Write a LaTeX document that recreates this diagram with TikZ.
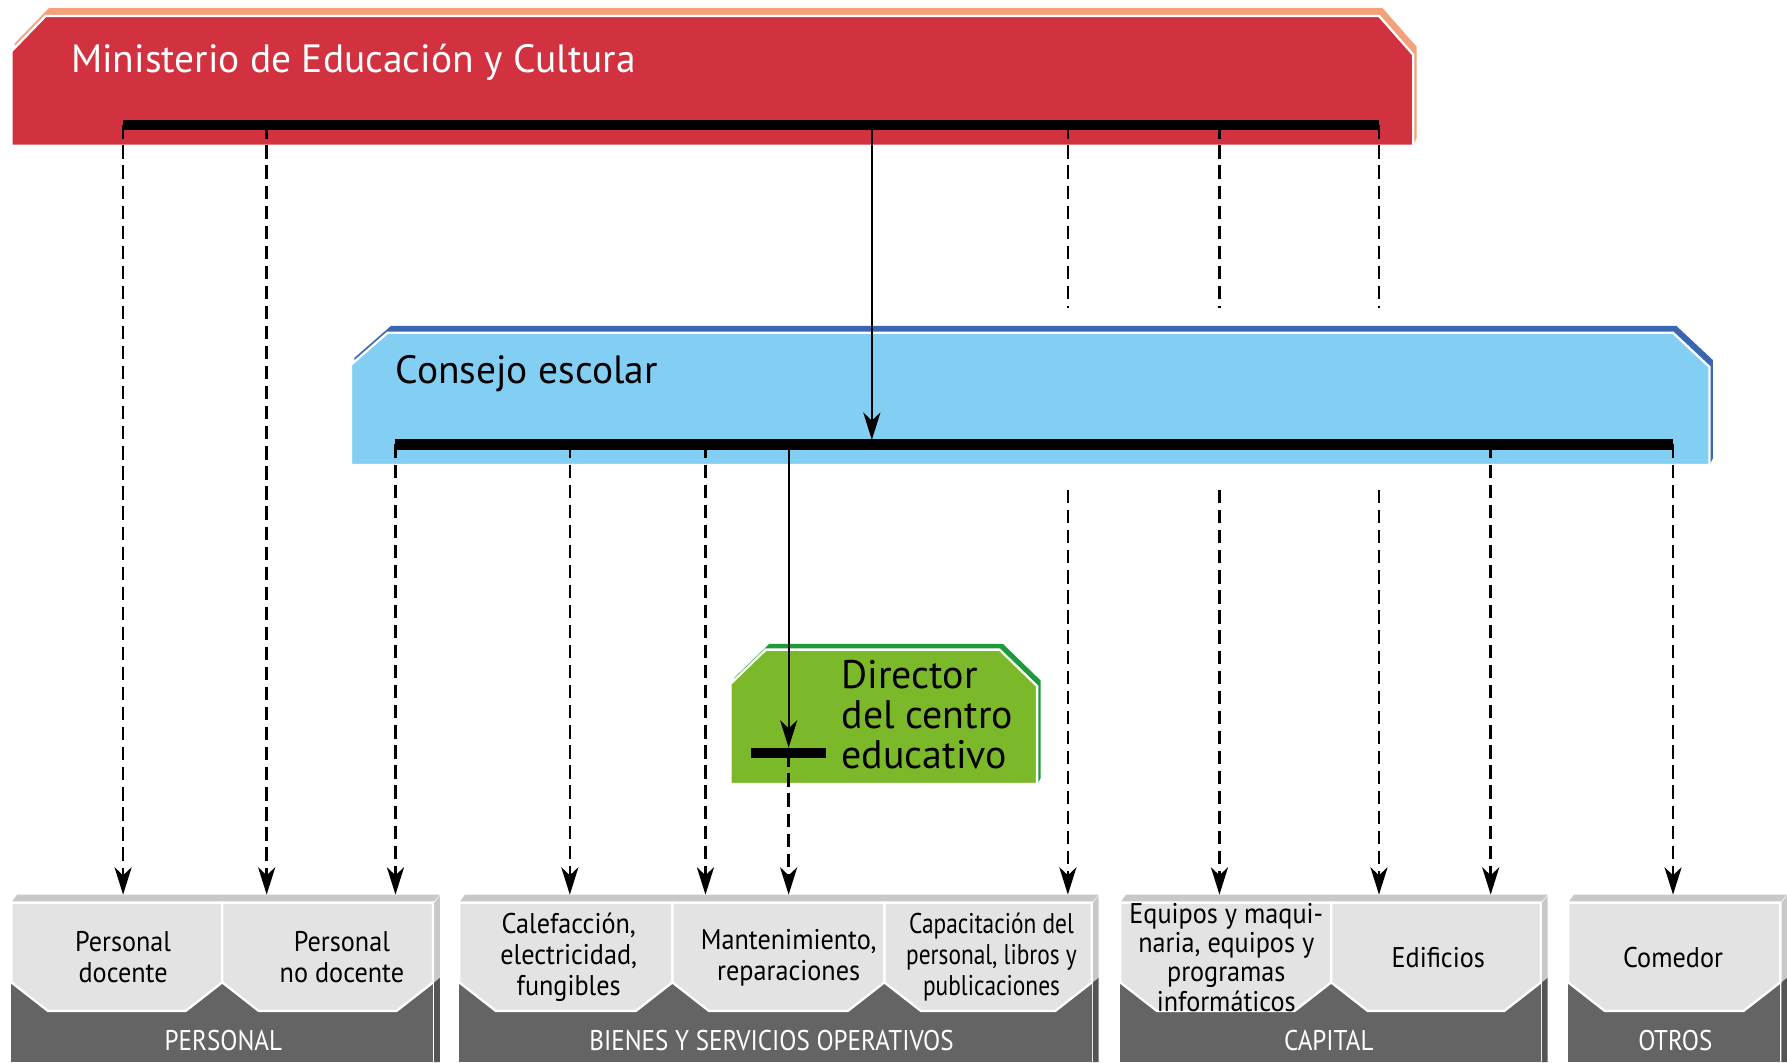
\documentclass[tikz,border=0pt]{standalone}
\usepackage{fontspec}
\setmainfont{PT Sans}
\newfontfamily\narrowfont[FakeStretch=0.92]{PT Sans}
\newfontfamily\labelfont[FakeStretch=0.88]{PT Sans}
\newfontfamily\tightfont[FakeStretch=0.82]{PT Sans}
\usetikzlibrary{arrows.meta}
\definecolor{redfill}{RGB}{210,50,64}
\definecolor{redrim}{RGB}{244,160,122}
\definecolor{bluefill}{RGB}{131,207,244}
\definecolor{bluerim}{RGB}{58,102,176}
\definecolor{greenfill}{RGB}{124,185,42}
\definecolor{greenrim}{RGB}{30,154,58}
\definecolor{lightbox}{RGB}{227,227,227}
\definecolor{darkbox}{RGB}{100,100,100}
\definecolor{topband}{RGB}{200,200,200}
\definecolor{sideband}{RGB}{85,85,85}
\begin{document}
\begin{tikzpicture}[x=0.5pt,y=-0.5pt,
  dashline/.style={line width=1.1pt, dash pattern=on 5.8pt off 3pt},
  solidline/.style={line width=1pt},
  tipped/.style={-{Stealth[length=12pt,width=7.5pt,inset=3.5pt]}},
  barline/.style={line width=4.5pt},
  bt/.style={align=center, font=\narrowfont\fontsize{12.5}{13.6}\selectfont, inner sep=0pt},
  gl/.style={text=white, font=\labelfont\fontsize{12.5}{14}\selectfont, inner sep=0pt},
  subbox/.style={fill=lightbox, draw=white, line width=1pt}
]
\useasboundingbox (0,0) rectangle (1568,932);

% ---------- Ministerio ----------
\fill[redrim] (13,38) -- (43,7) -- (1213,7) -- (1243,41) -- (1243,121) -- (1240,128) -- (10,128) -- cycle;
\filldraw[fill=redfill, draw=white, line width=1pt] (10,45) -- (40,14) -- (1210,14) -- (1240,48) -- (1240,128) -- (10,128) -- cycle;
\node[anchor=west, text=white, font=\fontsize{17.3}{20}\selectfont, inner sep=0pt] (mec) at (62,55) {Ministerio de Educación y Cultura};
\coordinate (rL) at (108,110);
\coordinate (rR) at (1210,110);

% ---------- Consejo escolar ----------
\fill[bluerim] (311,314) -- (343,286) -- (1471,286) -- (1503,316) -- (1503,402) -- (1500,408) -- (308,408) -- cycle;
\filldraw[fill=bluefill, draw=white, line width=1pt] (308,320) -- (340,292) -- (1468,292) -- (1500,322) -- (1500,408) -- (308,408) -- cycle;
\node[anchor=west, font=\fontsize{17.3}{20}\selectfont, inner sep=0pt] (ce) at (347,328) {Consejo escolar};
\coordinate (bL) at (347,390);
\coordinate (bR) at (1468,390);

% ---------- Director ----------
\fill[greenrim] (644,595) -- (675,565) -- (880,565) -- (913,597) -- (913,683) -- (910,688) -- (641,688) -- cycle;
\filldraw[fill=greenfill, draw=white, line width=1pt] (641,600) -- (672,570) -- (877,570) -- (910,602) -- (910,688) -- (641,688) -- cycle;
\node[anchor=west, align=left, font=\fontsize{17.5}{17.5}\selectfont, inner sep=0pt] (dir) at (738,627) {Director\\del centro\\educativo};
\coordinate (gL) at (659,661);
\coordinate (gR) at (725,661);

% ---------- bottom groups ----------
\foreach \L/\R in {10/380, 403/958, 983/1352, 1376/1562}{
  \fill[darkbox] (\L,792) rectangle (\R,932);
  \fill[topband] (\L,792) -- (\L+5,785) -- (\R+6,785) -- (\R,792) -- cycle;
  \fill[topband] (\R+1,792) -- (\R+6,786) -- (\R+6,858) -- (\R+1,862) -- cycle;
  \fill[sideband] (\R+1,862) -- (\R+6,858) -- (\R+6,932) -- (\R+1,932) -- cycle;
}
\foreach \a/\b in {10/195, 195/380, 403/590, 590/776, 776/958, 983/1168, 1168/1352, 1376/1562}{
  \path[subbox] (\a,792) -- (\b,792) -- (\b,862) -- (\b-32,887) -- (\a+32,887) -- (\a,862) -- cycle;
}
\node[bt] (s1) at (108,840) {Personal\\docente};
\node[bt] (s2) at (300,840) {Personal\\no docente};
\node[bt] (s3) at (499,840) {Calefacción,\\electricidad,\\fungibles};
\node[bt] (s4) at (692,840) {Mantenimiento,\\reparaciones};
\node[bt, font=\tightfont\fontsize{12.5}{13.6}\selectfont] (s5) at (870,840) {Capacitación del\\personal, libros y\\publicaciones};
\node[bt, font=\narrowfont\fontsize{12.5}{12.9}\selectfont] (s6) at (1076,840) {Equipos y maqui-\\naria, equipos y\\programas\\informáticos};
\node[bt] (s7) at (1262,840) {Edificios};
\node[bt] (s8) at (1468,840) {Comedor};
\node[gl] (g1) at (196,913) {PERSONAL};
\node[gl] (g2) at (677,913) {BIENES Y SERVICIOS OPERATIVOS};
\node[gl] (g3) at (1166,913) {CAPITAL};
\node[gl] (g4) at (1470,913) {OTROS};

% ---------- connector points ----------
\foreach \x/\n in {108/1, 234/2, 347/3, 500/4, 619/5, 692/6, 937/7, 1070/8, 1210/9, 1308/10, 1468/11}{
  \coordinate (t\n) at (\x,785);
}
\coordinate (r1) at (108,110);  \coordinate (r2) at (234,110);
\coordinate (r7) at (937,110);  \coordinate (r8) at (1070,110); \coordinate (r9) at (1210,110);
\coordinate (r7a) at (937,270); \coordinate (r8a) at (1070,270); \coordinate (r9a) at (1210,270);
\coordinate (r7b) at (937,430); \coordinate (r8b) at (1070,430); \coordinate (r9b) at (1210,430);
\coordinate (rm) at (765,110);  \coordinate (bm) at (765,386);
\coordinate (b3) at (347,390);  \coordinate (b4) at (500,390); \coordinate (b5) at (619,390);
\coordinate (b10) at (1308,390); \coordinate (b11) at (1468,390);
\coordinate (bd) at (692,390);  \coordinate (gm) at (692,656); \coordinate (gd) at (692,661);

% ---------- bars ----------
\draw[barline] (rL) -- (rR);
\draw[barline] (bL) -- (bR);
\draw[barline] (gL) -- (gR);

% ---------- connectors ----------
\draw[dashline, tipped] (r1) -- (t1);
\draw[dashline, tipped] (r2) -- (t2);
\draw[dashline] (r7) -- (r7a);
\draw[dashline] (r8) -- (r8a);
\draw[dashline] (r9) -- (r9a);
\draw[dashline, tipped] (r7b) -- (t7);
\draw[dashline, tipped] (r8b) -- (t8);
\draw[dashline, tipped] (r9b) -- (t9);
\draw[solidline, tipped] (rm) -- (bm);
\draw[dashline, tipped] (b3) -- (t3);
\draw[dashline, tipped] (b4) -- (t4);
\draw[dashline, tipped] (b5) -- (t5);
\draw[dashline, tipped] (b10) -- (t10);
\draw[dashline, tipped] (b11) -- (t11);
\draw[solidline, tipped] (bd) -- (gm);
\draw[dashline, tipped] (gd) -- (t6);
\end{tikzpicture}
\end{document}
